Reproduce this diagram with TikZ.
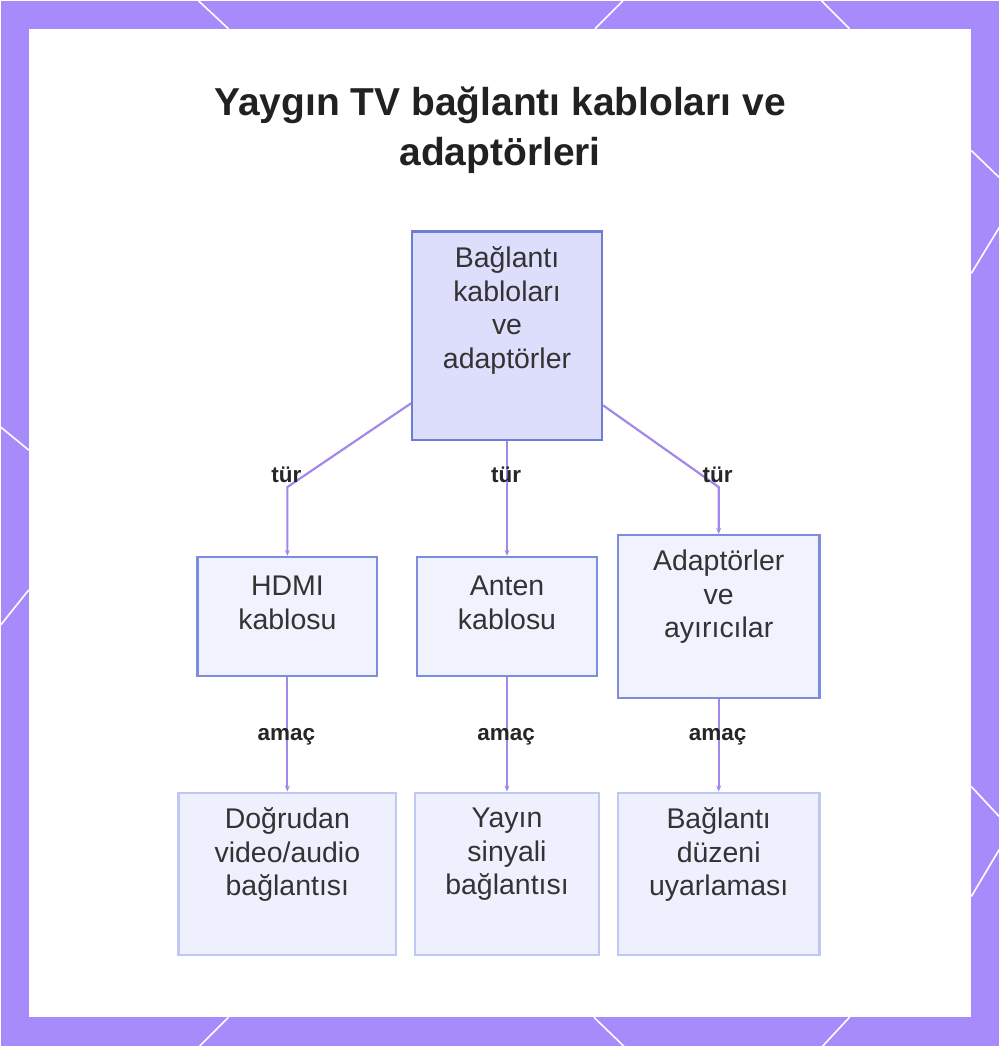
\documentclass[tikz,border=0pt]{standalone}
\usepackage{fontspec}
\setmainfont{Liberation Sans}
\usetikzlibrary{arrows.meta}

\definecolor{frame}{RGB}{167,139,250}
\definecolor{wire}{RGB}{163,136,236}
\definecolor{rootfill}{RGB}{220,222,252}
\definecolor{rootline}{RGB}{110,124,212}
\definecolor{midfill}{RGB}{240,242,254}
\definecolor{midline}{RGB}{124,140,224}
\definecolor{leaffill}{RGB}{238,241,253}
\definecolor{leafline}{RGB}{190,200,242}
\definecolor{ink}{RGB}{51,51,51}

\tikzset{
  box/.style={rectangle, line width=2.2pt, inner sep=0pt},
  boxtext/.style={align=center, text=ink, inner sep=0pt, font=\fontsize{28.5}{33.5}\selectfont},
  link/.style={draw=wire, line width=2.2pt, -{Stealth[length=6pt,width=5pt]}},
  tag/.style={font=\fontsize{22.5}{26}\selectfont\bfseries, text=black!85, inner sep=0pt},
}

\begin{document}
\begin{tikzpicture}[x=1pt,y=-1pt]

\fill[frame] (0,0) rectangle (1000,1047); % purple frame
\fill[white] (28,28) rectangle (972,1018); % panel

% white strokes on the frame
\foreach \xa/\ya/\xb/\yb in {198/0/228/28, 623/0/595/28, 822/0/850/28,
    199/1047/228/1018, 624/1047/594/1018, 823/1047/850/1018,
    0/427/28/450, 28/590/0/625,
    972/150/1000/177, 1000/227/972/273, 972/787/1000/817, 1000/850/972/897}{
  \draw[white, line width=1.6pt] (\xa,\ya) -- (\xb,\yb);
}

% title
\node [font=\fontsize{39}{50}\selectfont\bfseries, text=black!87, align=center] (title) at (500,130)
  {Yaygın TV bağlantı kabloları ve\\adaptörleri};

% boxes
\node [box, draw=rootline, fill=rootfill, minimum width=190, minimum height=209] (root) at (507,335.5) {};
\node [box, draw=midline, fill=midfill, minimum width=180, minimum height=119] (hdmi) at (287,616.5) {};
\node [box, draw=midline, fill=midfill, minimum width=180, minimum height=119] (anten) at (507,616.5) {};
\node [box, draw=midline, fill=midfill, minimum width=202, minimum height=163] (adapt) at (719,616.5) {};
\node [box, draw=leafline, fill=leaffill, minimum width=218, minimum height=163] (direct) at (287,874.5) {};
\node [box, draw=leafline, fill=leaffill, minimum width=184, minimum height=163] (yayin) at (507,874.5) {};
\node [box, draw=leafline, fill=leaffill, minimum width=202, minimum height=163] (duzen) at (719,874.5) {};

% box texts
\node [boxtext] (roottext) at (507,310) {Bağlantı\\kabloları\\ve\\adaptörler};
\node [boxtext] (hdmitext) at (287,603) {HDMI\\kablosu};
\node [boxtext] (antentext) at (507,603) {Anten\\kablosu};
\node [boxtext] (adapttext) at (719,597) {Adaptörler\\ve\\ayırıcılar};
\node [boxtext] (directtext) at (287,855) {Doğrudan\\video/audio\\bağlantısı};
\node [boxtext] (yayintext) at (507,855) {Yayın\\sinyali\\bağlantısı};
\node [boxtext] (duzentext) at (719,855) {Bağlantı\\düzeni\\uyarlaması};

% bends
\coordinate (bendl) at (287,487);
\coordinate (bendr) at (719,487);

% connectors
\draw [link] ([yshift=38pt]root.south west) -- (bendl) -- (hdmi.north);
\draw [link] (root.south) -- (anten.north);
\draw [link] ([yshift=36pt]root.south east) -- (bendr) -- (adapt.north);
\draw [link] (hdmi.south) -- (direct.north);
\draw [link] (anten.south) -- (yayin.north);
\draw [link] (adapt.south) -- (duzen.north);

% connector labels
\node [tag] (tur1) at (286,475) {tür};
\node [tag] (tur2) at (506,475) {tür};
\node [tag] (tur3) at (718,475) {tür};
\node [tag] (amac1) at (286,737) {amaç};
\node [tag] (amac2) at (506,737) {amaç};
\node [tag] (amac3) at (718,737) {amaç};

\end{tikzpicture}
\end{document}
